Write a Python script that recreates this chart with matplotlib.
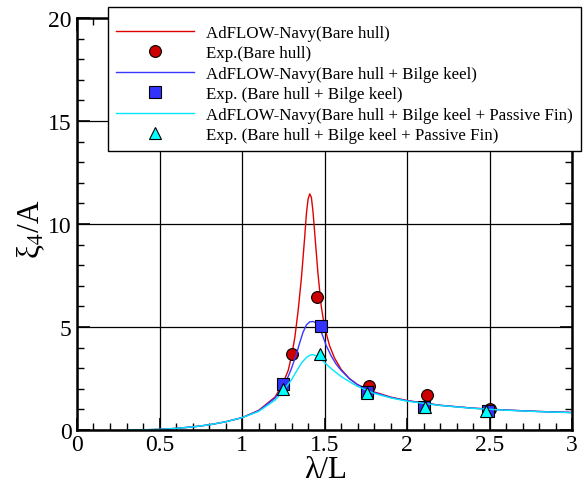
import matplotlib
matplotlib.use('Agg')
import matplotlib.pyplot as plt
from matplotlib.ticker import MultipleLocator

plt.rcParams['font.family'] = ['Liberation Serif', 'DejaVu Serif']
plt.rcParams['mathtext.fontset'] = 'stix'

# AdFLOW-Navy curves
x_bare = [0.35, 0.5, 0.6, 0.7, 0.8, 0.9, 1.0, 1.1, 1.2, 1.25, 1.28, 1.3, 1.32, 1.34,
          1.36, 1.38, 1.39, 1.40, 1.41, 1.42, 1.43, 1.44, 1.46, 1.48, 1.50, 1.53,
          1.56, 1.6, 1.65, 1.7, 1.8, 1.9, 2.0, 2.2, 2.4, 2.6, 2.8, 3.0]
y_bare = [0.0, 0.03, 0.08, 0.15, 0.25, 0.4, 0.6, 0.95, 1.6, 2.3, 2.9, 3.6, 4.5, 5.8,
          7.4, 9.4, 10.5, 11.2, 11.46, 11.3, 10.6, 9.6, 7.6, 6.0, 5.0, 4.1,
          3.5, 2.95, 2.5, 2.2, 1.85, 1.6, 1.43, 1.2, 1.06, 0.97, 0.9, 0.85]

x_bk = [0.35, 0.5, 0.6, 0.7, 0.8, 0.9, 1.0, 1.1, 1.2, 1.25, 1.28, 1.3, 1.33, 1.35,
        1.37, 1.39, 1.41, 1.43, 1.45, 1.47, 1.49, 1.51, 1.54, 1.57, 1.6, 1.65,
        1.7, 1.8, 1.9, 2.0, 2.2, 2.4, 2.6, 2.8, 3.0]
y_bk = [0.0, 0.03, 0.08, 0.15, 0.25, 0.4, 0.6, 0.93, 1.55, 2.15, 2.6, 3.0, 3.7, 4.25,
        4.75, 5.1, 5.25, 5.27, 5.2, 4.95, 4.55, 4.1, 3.6, 3.2, 2.9, 2.5,
        2.2, 1.82, 1.58, 1.42, 1.2, 1.06, 0.97, 0.9, 0.85]

x_fin = [0.3, 0.5, 0.6, 0.7, 0.8, 0.9, 1.0, 1.1, 1.2, 1.25, 1.3, 1.33, 1.36, 1.39,
         1.41, 1.43, 1.45, 1.47, 1.5, 1.53, 1.56, 1.6, 1.65, 1.7, 1.8, 1.9,
         2.0, 2.2, 2.4, 2.6, 2.8, 3.0]
y_fin = [0.0, 0.03, 0.08, 0.15, 0.25, 0.4, 0.6, 0.9, 1.45, 1.9, 2.45, 2.85, 3.25, 3.52,
         3.63, 3.66, 3.6, 3.48, 3.28, 3.05, 2.85, 2.6, 2.35, 2.12, 1.78, 1.56,
         1.4, 1.19, 1.05, 0.96, 0.89, 0.84]

# experiments
x_exp_bare = [1.30, 1.455, 1.77, 2.12, 2.50]
y_exp_bare = [3.7, 6.45, 2.15, 1.72, 1.0]
x_exp_bk = [1.25, 1.48, 1.76, 2.10, 2.49]
y_exp_bk = [2.25, 5.05, 1.85, 1.13, 0.93]
x_exp_fin = [1.25, 1.47, 1.76, 2.11, 2.48]
y_exp_fin = [2.0, 3.7, 1.8, 1.12, 0.92]

labels = ['AdFLOW-Navy(Bare hull)', 'Exp.(Bare hull)',
          'AdFLOW-Navy(Bare hull + Bilge keel)', 'Exp. (Bare hull + Bilge keel)',
          'AdFLOW-Navy(Bare hull + Bilge keel + Passive Fin)',
          'Exp. (Bare hull + Bilge keel + Passive Fin)']

fig = plt.figure(figsize=(5.85, 4.85), dpi=100)
ax = fig.add_axes([0.1316, 0.1113, 0.8464, 0.8495])

ax.plot(x_bare, y_bare, color='#e00000', lw=1.0, label=labels[0])
ax.plot(x_exp_bare, y_exp_bare, 'o', color='#cc0000', mec='k', mew=0.8, ms=8.5, label=labels[1])
ax.plot(x_bk, y_bk, color='#3838ff', lw=1.0, label=labels[2])
ax.plot(x_exp_bk, y_exp_bk, 's', color='#3333ff', mec='k', mew=0.8, ms=8, label=labels[3])
ax.plot(x_fin, y_fin, color='#00e5ff', lw=1.0, label=labels[4])
ax.plot(x_exp_fin, y_exp_fin, '^', color='#00ffff', mec='k', mew=0.8, ms=9, label=labels[5])

ax.set_xlim(0, 3)
ax.set_ylim(0, 20)
ax.xaxis.set_major_locator(MultipleLocator(0.5))
ax.xaxis.set_minor_locator(MultipleLocator(0.1))
ax.yaxis.set_major_locator(MultipleLocator(5))
ax.yaxis.set_minor_locator(MultipleLocator(1))
ax.set_xticks([0, 0.5, 1, 1.5, 2, 2.5, 3])
ax.set_xticklabels(['0', '0.5', '1', '1.5', '2', '2.5', '3'])
ax.tick_params(which='both', direction='in', top=True, right=True, labelsize=17)
ax.tick_params(axis='x', pad=3)
ax.tick_params(axis='y', pad=4)
ax.tick_params(which='major', length=9, width=1.2)
ax.tick_params(which='minor', length=5, width=1.0)
ax.grid(True, which='major', color='k', lw=0.9)
for s in ax.spines.values():
    s.set_linewidth(1.8)

ax.set_xlabel('λ/L', fontsize=22.5, va='baseline')
ax.set_ylabel('ξ$_4$/A', fontsize=22.5)
ax.xaxis.set_label_coords(0.502, -0.114)
ax.yaxis.set_label_coords(-0.061, 0.49)

leg = ax.legend(loc='upper left', bbox_to_anchor=(0.1846, 0.9835),
                bbox_transform=fig.transFigure, fontsize=12.2, frameon=True,
                fancybox=False, edgecolor='k', framealpha=1, handlelength=4.6,
                labelspacing=0.26, borderpad=0.5, handletextpad=0.7,
                borderaxespad=0, title=' ', title_fontsize=5)
leg.get_frame().set_linewidth(1.0)

fig.savefig('out.png', dpi=100)
